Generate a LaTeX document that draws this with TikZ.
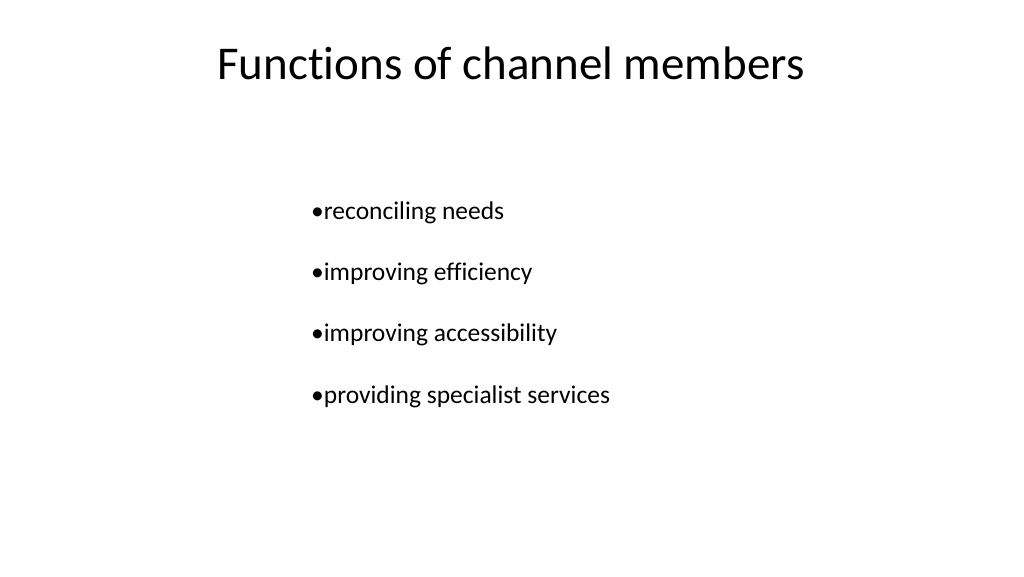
\documentclass[tikz,border=0pt]{standalone}
\usepackage{fontspec}
\setmainfont[Ligatures={NoCommon}]{Carlito}
\begin{document}
\begin{tikzpicture}[x=1pt,y=-1pt,
  item/.style={anchor=base west,inner sep=0pt,font=\fontsize{25.5}{30}\selectfont}]
\useasboundingbox[fill=white] (0,0) rectangle (1024,576);
\node[anchor=base,inner sep=0pt,font=\fontsize{47}{54}\selectfont] (title) at (511,79) {Functions of channel members};
\node[item] (a) at (311,219) {•reconciling needs};
\node[item] (b) at (311,280) {•improving efficiency};
\node[item] (c) at (311,341) {•improving accessibility};
\node[item] (d) at (311,403) {•providing specialist services};
\end{tikzpicture}
\end{document}
